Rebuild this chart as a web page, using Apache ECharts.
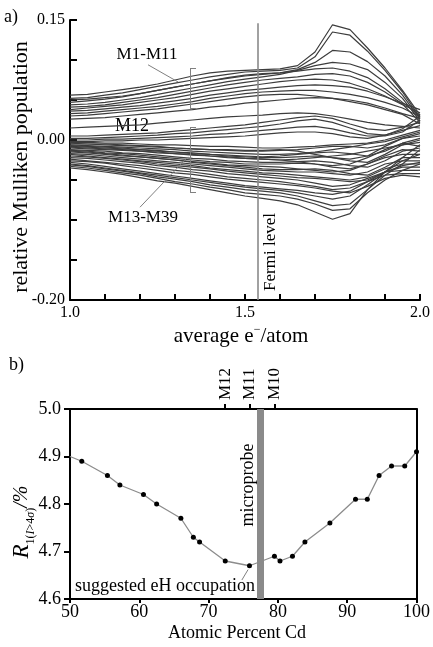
<!DOCTYPE html>
<html>
<head>
<meta charset="utf-8">
<script src="https://cdn.jsdelivr.net/npm/echarts@6/dist/echarts.min.js"></script>
<style>
  html, body { margin: 0; padding: 0; background: #fff; }
  #chart { width: 433px; height: 647px; }
</style>
</head>
<body>
<div id="chart"></div>
<script>
// ---------- Panel a: relative Mulliken populations vs. average e-/atom ----------
const electronCount = [1.00, 1.05, 1.10, 1.15, 1.20, 1.25, 1.30, 1.35, 1.40, 1.45, 1.50,
                       1.55, 1.60, 1.65, 1.70, 1.75, 1.80, 1.85, 1.90, 1.95, 2.00];
// populations below are given in units of 0.001
const POP_UNIT = 0.001;

// sites M1-M11
const upperSites = [
  [56, 57, 60, 63, 66, 70, 75, 80, 84, 86, 87, 88, 89, 93, 110, 144, 138, 115, 90, 62, 31],
  [52, 53, 56, 59, 63, 67, 71, 75, 79, 82, 85, 86, 87, 90, 104, 135, 131, 111, 87, 60, 28],
  [47, 49, 51, 54, 58, 62, 66, 70, 74, 77, 80, 82, 84, 88, 97, 112, 110, 98, 80, 56, 26],
  [44, 45, 47, 50, 53, 57, 61, 65, 69, 73, 76, 79, 82, 87, 93, 97, 95, 88, 72, 52, 24],
  [50, 51, 53, 55, 58, 62, 66, 70, 74, 78, 81, 83, 84, 86, 89, 90, 86, 78, 64, 47, 30],
  [41, 42, 44, 47, 50, 53, 57, 61, 65, 69, 72, 75, 77, 79, 82, 83, 80, 72, 60, 45, 22],
  [38, 40, 42, 44, 47, 50, 53, 57, 61, 64, 67, 70, 73, 75, 76, 75, 71, 64, 55, 44, 34],
  [36, 37, 39, 41, 43, 46, 49, 52, 56, 59, 62, 64, 66, 68, 69, 68, 66, 61, 54, 46, 38],
  [33, 34, 36, 38, 40, 42, 45, 48, 52, 55, 58, 60, 61, 62, 62, 60, 57, 53, 47, 40, 29],
  [30, 31, 33, 35, 37, 39, 42, 45, 48, 51, 54, 56, 57, 57, 55, 52, 48, 44, 38, 32, 20],
  [26, 27, 28, 30, 32, 34, 36, 38, 41, 43, 46, 48, 50, 52, 53, 52, 50, 46, 40, 33, 27]
];

// site M12
const siteM12 = [15, 16, 17, 18, 19, 21, 23, 25, 27, 29, 30, 31, 33, 34, 33, 30, 26, 22, 19, 17, 15];

// sites M13-M39
const lowerSites = [
  [5, 5, 6, 7, 8, 9, 11, 13, 15, 17, 19, 22, 25, 28, 30, 27, 20, 14, 12, 16, 22],
  [2, 2, 3, 4, 5, 6, 8, 9, 11, 13, 15, 17, 20, 24, 26, 22, 15, 8, 6, 12, 18],
  [0, 0, 1, 1, 2, 3, 4, 5, 7, 8, 10, 12, 14, 16, 17, 14, 9, 5, 5, 10, 25],
  [-2, -2, -1, -1, 0, 0, 1, 2, 3, 4, 5, 7, 9, 10, 10, 8, 4, 2, 6, 14, 30],
  [-3, -3, -4, -4, -5, -6, -6, -7, -8, -8, -9, -10, -10, -9, -8, -6, -5, -4, 0, 6, 12],
  [-5, -5, -6, -7, -8, -9, -10, -11, -12, -13, -14, -14, -13, -12, -10, -8, -8, -10, -6, 2, 8],
  [-6, -7, -8, -9, -10, -11, -12, -14, -15, -16, -17, -18, -18, -17, -15, -12, -9, -5, -2, 4, 10],
  [-4, -5, -5, -6, -7, -8, -10, -11, -12, -12, -13, -13, -12, -14, -18, -22, -24, -20, -8, 2, 5],
  [-8, -9, -10, -11, -12, -14, -15, -16, -18, -19, -20, -21, -20, -18, -16, -15, -17, -20, -14, -4, 2],
  [-7, -8, -9, -10, -12, -13, -15, -17, -18, -20, -21, -22, -22, -21, -20, -22, -26, -28, -18, -6, 0],
  [-10, -11, -12, -13, -14, -16, -17, -19, -20, -22, -23, -24, -25, -24, -22, -20, -18, -14, -10, -6, -3],
  [-9, -10, -11, -12, -14, -15, -17, -18, -20, -21, -23, -24, -25, -27, -30, -32, -30, -22, -12, -4, -8],
  [-12, -13, -14, -16, -17, -19, -21, -23, -24, -26, -27, -28, -28, -27, -26, -28, -32, -34, -26, -14, -10],
  [-13, -14, -16, -17, -19, -21, -23, -25, -27, -28, -30, -30, -30, -29, -30, -34, -36, -30, -20, -12, -14],
  [-15, -16, -18, -20, -21, -23, -25, -27, -29, -31, -32, -33, -34, -36, -38, -40, -38, -30, -22, -18, -18],
  [-14, -15, -17, -19, -21, -23, -25, -28, -30, -32, -34, -36, -37, -37, -36, -38, -42, -44, -34, -22, -22],
  [-17, -18, -20, -22, -24, -26, -28, -30, -32, -34, -36, -38, -39, -40, -40, -42, -44, -40, -30, -26, -26],
  [-18, -20, -22, -24, -26, -28, -30, -32, -35, -37, -39, -41, -42, -44, -46, -48, -50, -46, -36, -30, -30],
  [-20, -21, -23, -25, -27, -30, -32, -34, -36, -39, -41, -43, -45, -47, -48, -50, -52, -50, -40, -34, -34],
  [-22, -23, -25, -27, -29, -32, -34, -37, -39, -42, -44, -46, -48, -50, -54, -58, -56, -48, -40, -38, -38],
  [-24, -26, -28, -30, -32, -35, -38, -40, -43, -46, -48, -50, -52, -55, -58, -62, -60, -52, -44, -42, -42],
  [-26, -27, -29, -32, -35, -38, -41, -43, -46, -49, -51, -53, -55, -57, -60, -64, -66, -58, -48, -44, -46],
  [-28, -30, -33, -36, -39, -42, -45, -48, -51, -54, -57, -59, -61, -63, -66, -68, -64, -52, -40, -32, -28],
  [-30, -32, -35, -38, -41, -44, -47, -50, -53, -56, -59, -61, -63, -66, -70, -74, -70, -56, -40, -26, -18],
  [-31, -33, -36, -39, -42, -46, -49, -52, -56, -59, -62, -64, -66, -70, -76, -82, -80, -62, -44, -30, -12],
  [-33, -35, -38, -41, -44, -48, -52, -55, -59, -62, -66, -68, -70, -74, -80, -88, -86, -66, -50, -38, -30],
  [-35, -37, -40, -43, -47, -51, -54, -58, -62, -66, -70, -73, -76, -81, -90, -99, -92, -62, -40, -22, -6]
];

const fermiLevel = 1.537;
const popTickLabels = [-0.20, 0.00, 0.15];
const electronTickLabels = [1.0, 1.5, 2.0];

// ---------- Panel b: R1(I>4σ) vs. atomic percent Cd ----------
const cdPercent = [50, 51.7, 55.4, 57.2, 60.6, 62.5, 66.0, 67.8, 68.7, 72.4, 75.9,
                   79.5, 80.3, 82.1, 83.9, 87.5, 91.2, 92.9, 94.6, 96.4, 98.3, 100];
const rFactor   = [4.90, 4.89, 4.86, 4.84, 4.82, 4.80, 4.77, 4.73, 4.72, 4.68, 4.67,
                   4.69, 4.68, 4.69, 4.72, 4.76, 4.81, 4.81, 4.86, 4.88, 4.88, 4.91];
const siteTickPos = [72.4, 75.9, 79.5];
const siteTickNames = ['M12', 'M11', 'M10'];
const microprobeCd = 77.4;

const SERIF = '"Liberation Serif", "DejaVu Serif", serif';
const near = (v, list) => list.findIndex(t => Math.abs(t - v) < 1e-6);

const curveColor = '#3d3d3d';
const annotColor = '#808080';

const allSites = upperSites.concat([siteM12], lowerSites);
const popSeries = allSites.map((vals, k) => ({
  type: 'line',
  xAxisIndex: 0, yAxisIndex: 0,
  showSymbol: false, silent: true, animation: false,
  lineStyle: { color: curveColor, width: 1.2 },
  data: electronCount.map((x, i) => [x, vals[i] * POP_UNIT])
}));

// Fermi level, brackets and leader lines of panel a
const seg = (a, b) => [{ coord: a }, { coord: b }];
popSeries[0].markLine = {
  silent: true, animation: false, symbol: 'none',
  label: { show: false },
  lineStyle: { color: annotColor, width: 1, type: 'solid' },
  data: [
    [{ coord: [fermiLevel, -0.2], lineStyle: { width: 1.6, color: '#8a8a8a' } }, { coord: [fermiLevel, 0.146] }],
    // bracket M1-M11
    seg([1.36, 0.090], [1.343, 0.090]),
    seg([1.343, 0.090], [1.343, 0.040]),
    seg([1.343, 0.040], [1.36, 0.040]),
    // bracket M13-M39
    seg([1.36, 0.016], [1.343, 0.016]),
    seg([1.343, 0.016], [1.343, -0.065]),
    seg([1.343, -0.065], [1.36, -0.065]),
    // leaders
    seg([1.223, 0.094], [1.309, 0.0725]),
    seg([1.20, -0.084], [1.337, -0.021])
  ]
};

const rSeries = {
  type: 'line',
  xAxisIndex: 1, yAxisIndex: 1,
  silent: true, animation: false,
  symbol: 'circle', symbolSize: 5,
  itemStyle: { color: '#000' },
  lineStyle: { color: '#8c8c8c', width: 1.3 },
  data: cdPercent.map((x, i) => i === 0 ? { value: [x, rFactor[i]], symbol: 'none' } : [x, rFactor[i]]),
  z: 3,
  markLine: {
    silent: true, animation: false, symbol: 'none',
    label: { show: false },
    data: [
      [{ coord: [microprobeCd, 4.6], lineStyle: { color: '#8a8a8a', width: 7, type: 'solid' } }, { coord: [microprobeCd, 5.0] }],
      [{ coord: [74.8, 4.64], lineStyle: { color: annotColor, width: 1, type: 'solid' } }, { coord: [75.7, 4.662] }]
    ]
  }
};

const axisBlack = { color: '#000', width: 2 };

const option = {
  animation: false,
  backgroundColor: '#fff',
  textStyle: { fontFamily: SERIF, color: '#000' },
  grid: [
    { left: 70, top: 20, width: 350, height: 280 },
    { left: 70, top: 409, width: 353, height: 190 }
  ],
  xAxis: [
    {
      gridIndex: 0, type: 'value', min: 1, max: 2, interval: 0.1,
      axisLine: { onZero: false, lineStyle: axisBlack },
      axisTick: { inside: true, length: 6, lineStyle: { width: 2, color: '#000' } },
      axisLabel: {
        fontFamily: SERIF, fontSize: 16, color: '#000', margin: 5,
        formatter: v => near(v, electronTickLabels) >= 0 ? v.toFixed(1) : ''
      },
      splitLine: { show: false }
    },
    {
      gridIndex: 1, type: 'value', min: 50, max: 100, interval: 10,
      axisLine: { onZero: false, lineStyle: axisBlack },
      axisTick: { inside: false, length: 4, lineStyle: { width: 2, color: '#000' } },
      axisLabel: { fontFamily: SERIF, fontSize: 18, color: '#000', margin: 4 },
      splitLine: { show: false }
    },
    {
      gridIndex: 1, type: 'value', min: 50, max: 100, position: 'top',
      axisLine: { onZero: false, lineStyle: axisBlack },
      axisTick: { show: true, customValues: siteTickPos, length: 5, lineStyle: { width: 2, color: '#000' } },
      axisLabel: {
        show: true, customValues: siteTickPos, rotate: -90, margin: 9,
        fontFamily: SERIF, fontSize: 17, color: '#000',
        formatter: v => { const k = near(v, siteTickPos); return k >= 0 ? siteTickNames[k] : ''; }
      },
      splitLine: { show: false }
    }
  ],
  yAxis: [
    {
      gridIndex: 0, type: 'value', min: -0.2, max: 0.15, interval: 0.05,
      axisLine: { show: true, onZero: false, lineStyle: axisBlack },
      axisTick: { show: true, inside: true, length: 7, lineStyle: { width: 2, color: '#000' } },
      axisLabel: {
        fontFamily: SERIF, fontSize: 16, color: '#000', margin: 5,
        formatter: v => near(v, popTickLabels) >= 0 ? v.toFixed(2) : ''
      },
      splitLine: { show: false }
    },
    {
      gridIndex: 1, type: 'value', min: 4.6, max: 5.0, interval: 0.1,
      axisLine: { show: true, onZero: false, lineStyle: axisBlack },
      axisTick: { show: true, inside: false, length: 6, lineStyle: { width: 2, color: '#000' } },
      axisLabel: { fontFamily: SERIF, fontSize: 18, color: '#000', margin: 9, formatter: v => v.toFixed(1) },
      splitLine: { show: false }
    },
    {
      gridIndex: 1, type: 'value', min: 4.6, max: 5.0, position: 'right',
      axisLine: { show: true, onZero: false, lineStyle: axisBlack },
      axisTick: { show: false }, axisLabel: { show: false },
      splitLine: { show: false }
    }
  ],
  series: popSeries.concat([rSeries]),
  graphic: [
    { type: 'text', x: 4, y: 17, style: { text: 'a)', font: '18px ' + SERIF, fill: '#000', align: 'left', verticalAlign: 'middle' } },
    { type: 'text', x: 9, y: 365, style: { text: 'b)', font: '18px ' + SERIF, fill: '#000', align: 'left', verticalAlign: 'middle' } },
    { type: 'text', x: 21, y: 167, rotation: Math.PI / 2,
      style: { text: 'relative Mulliken population', font: '22px ' + SERIF, fill: '#000', align: 'center', verticalAlign: 'middle' } },
    { type: 'text', x: 241, y: 336,
      style: {
        text: '{t|average e}{s|−}{t|/atom}', align: 'center', verticalAlign: 'middle', fill: '#000',
        rich: {
          t: { fontFamily: SERIF, fontSize: 21, lineHeight: 24 },
          s: { fontFamily: SERIF, fontSize: 12, verticalAlign: 'top', lineHeight: 24 }
        }
      } },
    { type: 'text', x: 147, y: 55, style: { text: 'M1-M11', font: '17px ' + SERIF, fill: '#000', align: 'center', verticalAlign: 'middle' } },
    { type: 'text', x: 132, y: 126, style: { text: 'M12', font: '18px ' + SERIF, fill: '#000', align: 'center', verticalAlign: 'middle' } },
    { type: 'text', x: 143, y: 218, style: { text: 'M13-M39', font: '17px ' + SERIF, fill: '#000', align: 'center', verticalAlign: 'middle' } },
    { type: 'text', x: 271, y: 252, rotation: Math.PI / 2,
      style: { text: 'Fermi level', font: '17px ' + SERIF, fill: '#000', align: 'center', verticalAlign: 'middle' } },
    { type: 'text', x: 248, y: 485, rotation: Math.PI / 2,
      style: { text: 'microprobe', font: '18px ' + SERIF, fill: '#000', align: 'center', verticalAlign: 'middle' } },
    { type: 'text', x: 75, y: 586,
      style: { text: 'suggested eH occupation', font: '18px ' + SERIF, fill: '#000', align: 'left', verticalAlign: 'middle' } },
    { type: 'text', x: 237, y: 633,
      style: { text: 'Atomic Percent Cd', font: '18px ' + SERIF, fill: '#000', align: 'center', verticalAlign: 'middle' } },
    { type: 'text', x: 22, y: 522, rotation: Math.PI / 2,
      style: {
        text: '{r|R}{s|1(}{i|I}{s|>4}{i|σ}{s|)}{n|/%}', align: 'center', verticalAlign: 'middle', fill: '#000',
        rich: {
          r: { fontFamily: SERIF, fontSize: 23, fontStyle: 'italic', lineHeight: 30 },
          s: { fontFamily: SERIF, fontSize: 12, verticalAlign: 'bottom', lineHeight: 30 },
          i: { fontFamily: SERIF, fontSize: 12, fontStyle: 'italic', verticalAlign: 'bottom', lineHeight: 30 },
          n: { fontFamily: SERIF, fontSize: 20, fontStyle: 'italic', lineHeight: 30 }
        }
      } }
  ]
};

const chart = echarts.init(document.getElementById('chart'), null, { renderer: 'canvas' });
chart.setOption(option);
</script>
</body>
</html>
